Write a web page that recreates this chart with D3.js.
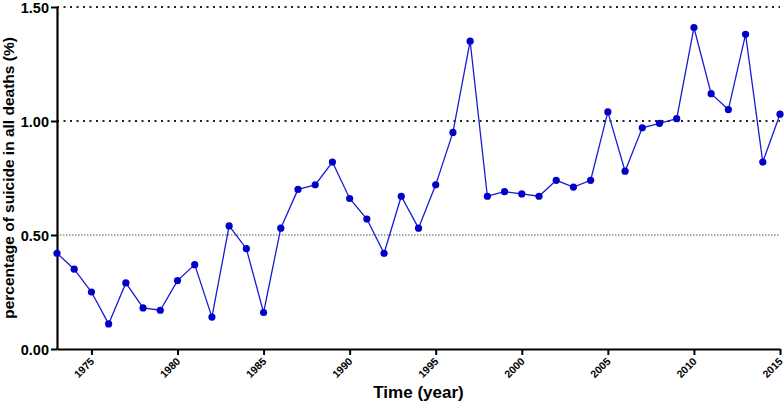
<!DOCTYPE html>
<html>
<head>
<meta charset="utf-8">
<script src="https://cdn.jsdelivr.net/npm/d3@7"></script>
<style>
  body { margin: 0; background: #fff; }
  svg { display: block; font-family: Arial, "Liberation Sans", sans-serif; }
</style>
</head>
<body>
<svg id="chart" width="784" height="406"></svg>
<script>
const years = d3.range(1973, 2016);
const values = [
  0.42, 0.35, 0.25, 0.11, 0.29, 0.18, 0.17, 0.30, 0.37, 0.14,
  0.54, 0.44, 0.16, 0.53, 0.70, 0.72, 0.82, 0.66, 0.57, 0.42,
  0.67, 0.53, 0.72, 0.95, 1.35, 0.67, 0.69, 0.68, 0.67, 0.74,
  0.71, 0.74, 1.04, 0.78, 0.97, 0.99, 1.01, 1.41, 1.12, 1.05,
  1.38, 0.82, 1.03
];
const yTicks = [0, 0.5, 1.0, 1.5];
const xTicks = [1975, 1980, 1985, 1990, 1995, 2000, 2005, 2010, 2015];

const margin = {top: 7, right: 4, bottom: 57, left: 57},
    width = 784 - margin.left - margin.right,
    height = 406 - margin.top - margin.bottom;

const data = years.map((y, i) => ({year: y, value: values[i]}));

const x = d3.scaleLinear().domain([1973, 2015]).range([0, width]);
const y = d3.scaleLinear().domain([0, 1.5]).range([height, 0]);

const svg = d3.select('#chart');
const g = svg.append('g')
    .attr('transform', 'translate(' + margin.left + ',' + margin.top + ')');

// grid lines
g.selectAll('.grid').data(yTicks.filter(d => d > 0))
    .enter().append('line')
    .attr('x1', 0).attr('x2', width)
    .attr('y1', d => y(d)).attr('y2', d => y(d))
    .attr('stroke', d => d === 0.5 ? '#555' : '#222')
    .attr('stroke-width', d => d === 0.5 ? 1 : 2)
    .attr('stroke-dasharray', d => d === 0.5 ? '1.5,1.5' : '2,4.5');

// y axis
const yAxis = d3.axisLeft(y).tickValues(yTicks).tickFormat(d3.format('.2f'))
    .tickSize(6).tickSizeOuter(0);
const yG = g.append('g').call(yAxis);
yG.select('.domain').attr('stroke', '#000').attr('stroke-width', 2.2);
yG.selectAll('.tick line').attr('stroke', '#000').attr('stroke-width', 2);
yG.selectAll('.tick text')
    .attr('x', -8).attr('dy', '0.36em')
    .style('font-size', '14.5px').style('font-weight', 'bold').attr('fill', '#000');

// x axis
const xAxis = d3.axisBottom(x).tickValues(xTicks).tickFormat(d3.format('d'))
    .tickSize(6).tickSizeOuter(0);
const xG = g.append('g')
    .attr('transform', 'translate(0,' + height + ')')
    .call(xAxis);
xG.select('.domain').attr('stroke', '#000').attr('stroke-width', 2.2);
xG.selectAll('.tick line').attr('stroke', '#000').attr('stroke-width', 2);
xG.selectAll('.tick text')
    .attr('text-anchor', 'end')
    .attr('x', 0).attr('y', 0).attr('dy', 0)
    .attr('transform', 'translate(3,13) rotate(-45)')
    .style('font-size', '10.5px').style('font-weight', 'bold').attr('fill', '#000');

// line + markers
const line = d3.line().x(d => x(d.year)).y(d => y(d.value));
g.append('path').datum(data)
    .attr('d', line)
    .attr('fill', 'none')
    .attr('stroke', '#1a1ad6')
    .attr('stroke-width', 1.3);

g.selectAll('circle').data(data)
    .enter().append('circle')
    .attr('cx', d => x(d.year))
    .attr('cy', d => y(d.value))
    .attr('r', 3.6)
    .attr('fill', '#0000c8');

// titles
svg.append('text')
    .attr('x', margin.left + width / 2)
    .attr('y', 398)
    .attr('text-anchor', 'middle')
    .style('font-size', '17px').style('font-weight', 'bold')
    .text('Time (year)');

svg.append('text')
    .attr('transform', 'translate(14,' + (margin.top + height / 2) + ') rotate(-90)')
    .attr('text-anchor', 'middle')
    .style('font-size', '15.5px').style('font-weight', 'bold')
    .text('percentage of suicide in all deaths (%)');
</script>
</body>
</html>
